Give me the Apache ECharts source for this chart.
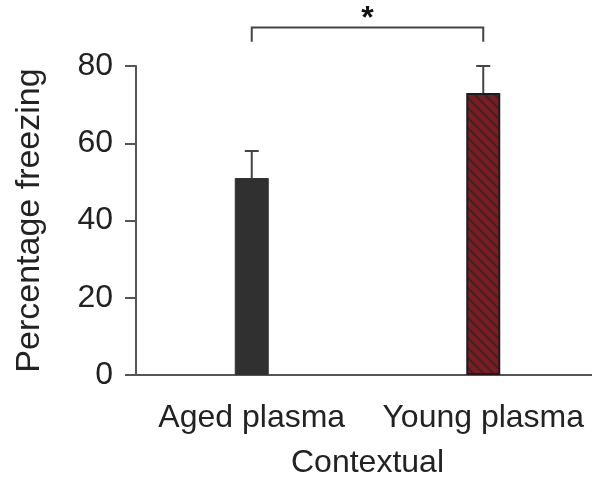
<!DOCTYPE html>
<html><head><meta charset="utf-8">
<script src="https://cdn.jsdelivr.net/npm/echarts@6/dist/echarts.min.js"></script>
<style>html,body{margin:0;padding:0;background:#fff}#c{width:592px;height:485px}</style>
</head><body><div id="c"></div>
<script>
const categories = ['Aged plasma', 'Young plasma'];
const means = [51, 73];
const errorTops = [58, 80];
const yTicks = [0, 20, 40, 60, 80];
const bracketLevel = 90;
const bracketDrop = 86.3;
const sigLabel = '*';
const xTitle = 'Contextual';
const yTitle = 'Percentage freezing';

const FONT = '"Liberation Sans", Arial, Helvetica, sans-serif';

function hatch() {
  const s = 10, c = document.createElement('canvas');
  c.width = s; c.height = s;
  const g = c.getContext('2d');
  g.fillStyle = '#7a1d24'; g.fillRect(0, 0, s, s);
  g.strokeStyle = '#3e2427'; g.lineWidth = 2.2;
  g.beginPath();
  g.moveTo(-2, -2); g.lineTo(s + 2, s + 2);
  g.moveTo(-2 - s, -2); g.lineTo(2, s + 2);
  g.moveTo(s - 2, -2); g.lineTo(2 * s + 2, s + 2);
  g.stroke();
  return c;
}
const fills = ['#303030', { image: hatch(), repeat: 'repeat' }];

const chart = echarts.init(document.getElementById('c'), null, { renderer: 'canvas' });
chart.setOption({
  animation: false,
  grid: { left: 136, right: -7, top: 66, bottom: 110, containLabel: false, outerBoundsMode: 'none' },
  xAxis: {
    type: 'category', data: categories, boundaryGap: true,
    name: xTitle, nameLocation: 'middle', nameGap: 72,
    nameTextStyle: { fontSize: 32, color: '#222', fontFamily: FONT },
    axisLine: { lineStyle: { color: '#555', width: 2 } },
    axisTick: { alignWithLabel: true, length: 10, lineStyle: { color: '#555', width: 2 } },
    axisLabel: { fontSize: 32, color: '#222', fontFamily: FONT, margin: 27, interval: 0 }
  },
  yAxis: {
    type: 'value', min: yTicks[0], max: yTicks[yTicks.length - 1], interval: 20,
    name: yTitle, nameLocation: 'middle', nameGap: 89, nameRotate: 90,
    nameTextStyle: { fontSize: 34, color: '#222', fontFamily: FONT },
    splitLine: { show: false },
    axisLine: { show: true, lineStyle: { color: '#555', width: 2 } },
    axisTick: { show: true, length: 11, lineStyle: { color: '#555', width: 2 } },
    axisLabel: { fontSize: 32, color: '#222', fontFamily: FONT, margin: 23 }
  },
  series: [
    {
      type: 'bar', barWidth: 34,
      data: means.map((v, i) => ({ value: v, itemStyle: { color: fills[i], borderColor: i ? '#1c1c1c' : '#333', borderWidth: i ? 2 : 1 } })),
      z: 2
    },
    {
      type: 'custom', z: 3, clip: false,
      data: means.map((m, i) => [i, m, errorTops[i]]),
      renderItem(params, api) {
        const lo = api.coord([api.value(0), api.value(1)]);
        const hi = api.coord([api.value(0), api.value(2)]);
        const w = 7;
        return { type: 'group', children: [
          { type: 'line', shape: { x1: lo[0], y1: lo[1], x2: hi[0], y2: hi[1] }, style: { stroke: '#444', lineWidth: 2 } },
          { type: 'line', shape: { x1: hi[0] - w, y1: hi[1], x2: hi[0] + w, y2: hi[1] }, style: { stroke: '#444', lineWidth: 2 } }
        ] };
      }
    },
    {
      type: 'custom', z: 3, clip: false,
      data: [[0, 1, bracketLevel, bracketDrop]],
      renderItem(params, api) {
        const a = api.coord([api.value(0), api.value(2)]);
        const b = api.coord([api.value(1), api.value(2)]);
        const a2 = api.coord([api.value(0), api.value(3)]);
        const b2 = api.coord([api.value(1), api.value(3)]);
        return { type: 'group', children: [
          { type: 'polyline', shape: { points: [[a2[0], a2[1]], [a[0], a[1]], [b[0], b[1]], [b2[0], b2[1]]] }, style: { stroke: '#444', lineWidth: 2, fill: null } },
          { type: 'text', style: { x: (a[0] + b[0]) / 2, y: a[1] + 8, text: sigLabel, fontSize: 32, fontWeight: 'bold', fontFamily: FONT, fill: '#111', align: 'center', verticalAlign: 'bottom' } }
        ] };
      }
    }
  ]
});
</script></body></html>
